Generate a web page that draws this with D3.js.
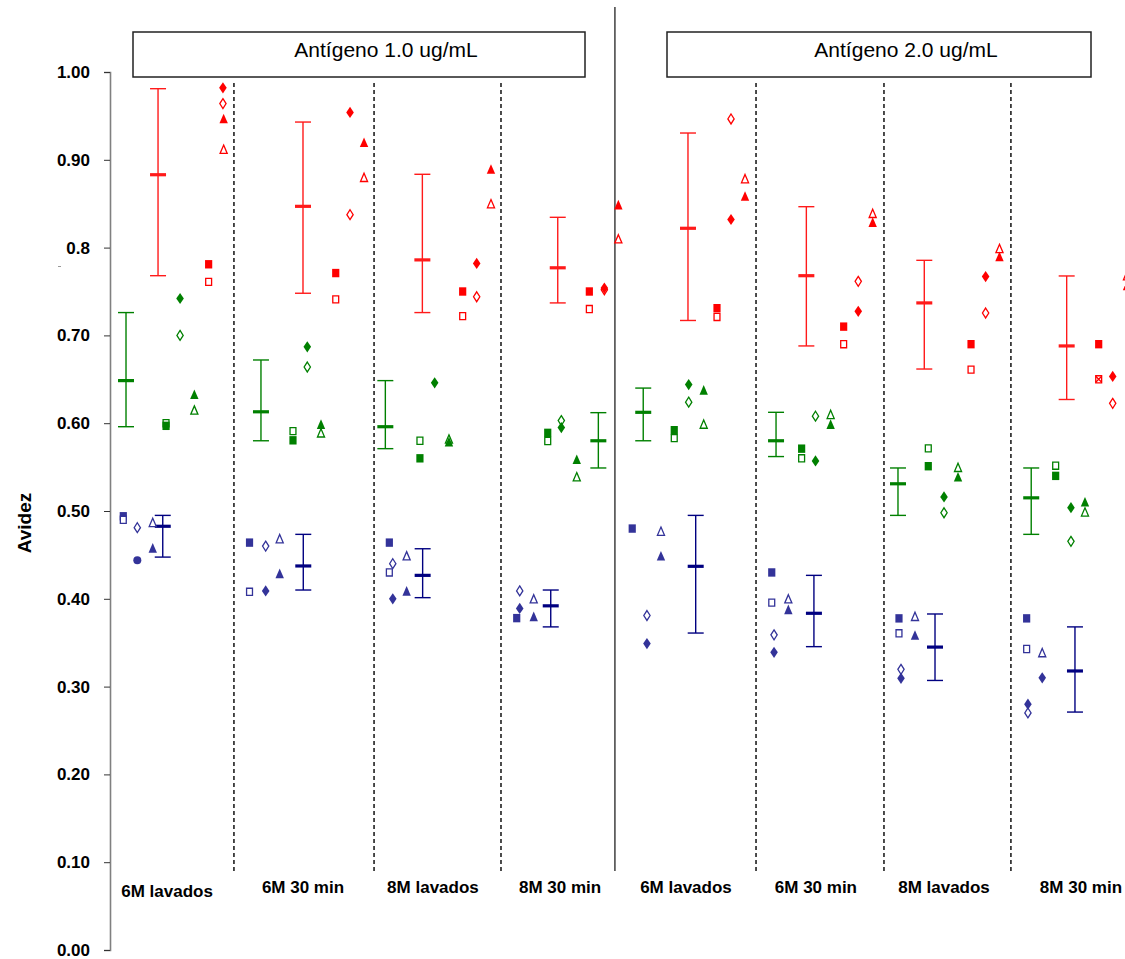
<!DOCTYPE html>
<html><head><meta charset="utf-8">
<script src="https://cdn.jsdelivr.net/npm/d3@7"></script>
<style>body{margin:0;background:#fff}svg{display:block}</style>
</head><body>
<script>
// ---------- data ----------
const panels = ["Antígeno 1.0 ug/mL", "Antígeno 2.0 ug/mL"];
const categories = ["6M lavados","6M 30 min","8M lavados","8M 30 min","6M lavados","6M 30 min","8M lavados","8M 30 min"];
const categoryX = [3.99, 13.5, 22.59, 31.48, 40.29, 49.38, 58.34, 67.92];
const dashedDividers = [8.67, 18.47, 27.35, 45.19, 54.14, 63.02];
const panelDivider = 35.32;
const yTickValues = [0,0.1,0.2,0.3,0.4,0.5,0.6,0.7,0.8,0.9,1.0];
const yTickLabels = ["0.00","0.10","0.20","0.30","0.40","0.50","0.60","0.70","0.8","0.90","1.00"];
const yTitle = "Avidez";

// error bars: [x, low, mean, high]
const redBars = [[3.36,0.768,0.883,0.981],[13.50,0.748,0.847,0.943],[21.85,0.726,0.786,0.8835],[31.32,0.737,0.777,0.8345],
  [40.43,0.717,0.822,0.9305],[48.71,0.688,0.768,0.8466],[56.96,0.6617,0.737,0.7855],[66.92,0.627,0.688,0.7677]];
const greenBars = [[1.12,0.596,0.6485,0.726],[10.56,0.580,0.613,0.672],[19.26,0.571,0.596,0.6485],[34.16,0.549,0.580,0.612],
  [37.30,0.580,0.6124,0.640],[46.59,0.562,0.580,0.6124],[55.12,0.495,0.531,0.549],[64.44,0.4734,0.515,0.549]];
const blueBars = [[3.69,0.4475,0.4826,0.495],[13.52,0.410,0.4374,0.4734],[21.87,0.4013,0.4267,0.457],[30.83,0.368,0.392,0.410],
  [40.97,0.361,0.437,0.495],[49.24,0.3455,0.3835,0.4267],[57.71,0.307,0.345,0.3827],[67.50,0.271,0.3178,0.368]];

// points: [x, value, symbol]  s/S square filled/open, d/D diamond, t/T triangle, c circle, x cross
const redPoints = [
  [6.90,0.781,"s"],[6.90,0.761,"S"],[7.90,0.982,"d"],[7.90,0.964,"D"],[7.95,0.947,"t"],[7.95,0.912,"T"],
  [15.79,0.771,"s"],[15.79,0.741,"S"],[16.79,0.954,"d"],[16.79,0.8375,"D"],[17.77,0.920,"t"],[17.77,0.880,"T"],
  [24.67,0.750,"s"],[24.67,0.722,"S"],[25.65,0.782,"d"],[25.65,0.744,"D"],[26.65,0.8895,"t"],[26.65,0.850,"T"],
  [33.53,0.750,"s"],[33.53,0.730,"S"],[34.58,0.752,"D"],[34.58,0.754,"d"],[35.56,0.849,"t"],[35.56,0.810,"T"],
  [42.46,0.731,"s"],[42.46,0.721,"S"],[43.44,0.9465,"D"],[43.44,0.832,"d"],[44.42,0.8785,"T"],[44.42,0.8588,"t"],
  [51.32,0.710,"s"],[51.32,0.690,"S"],[52.34,0.7616,"D"],[52.34,0.7274,"d"],[53.35,0.839,"T"],[53.35,0.829,"t"],
  [60.23,0.690,"s"],[60.23,0.661,"S"],[61.25,0.767,"d"],[61.25,0.7255,"D"],[62.22,0.799,"T"],[62.22,0.790,"t"],
  [69.16,0.690,"s"],[69.16,0.650,"S"],[69.16,0.650,"x"],[70.14,0.6533,"d"],[70.14,0.6226,"D"],[71.14,0.768,"T"],[71.14,0.757,"t"]
];
const greenPoints = [
  [3.92,0.600,"S"],[3.92,0.597,"s"],[4.90,0.742,"d"],[4.90,0.700,"D"],[5.90,0.633,"t"],[5.90,0.615,"T"],
  [12.80,0.591,"S"],[12.80,0.5805,"s"],[13.80,0.687,"d"],[13.80,0.664,"D"],[14.76,0.599,"t"],[14.76,0.589,"T"],
  [21.68,0.580,"S"],[21.68,0.560,"s"],[22.71,0.646,"d"],[23.71,0.582,"T"],[23.71,0.579,"t"],
  [30.62,0.589,"s"],[30.62,0.5797,"S"],[31.57,0.603,"D"],[31.57,0.595,"d"],[32.65,0.559,"t"],[32.65,0.539,"T"],
  [39.47,0.592,"s"],[39.47,0.583,"S"],[40.48,0.644,"d"],[40.48,0.624,"D"],[41.53,0.638,"t"],[41.53,0.599,"T"],
  [48.38,0.571,"s"],[48.38,0.560,"S"],[49.35,0.608,"D"],[49.35,0.557,"d"],[50.41,0.610,"T"],[50.41,0.599,"t"],
  [57.24,0.5713,"S"],[57.24,0.551,"s"],[58.34,0.516,"d"],[58.34,0.498,"D"],[59.32,0.5497,"T"],[59.32,0.539,"t"],
  [66.15,0.5516,"S"],[66.15,0.540,"s"],[67.22,0.5038,"d"],[67.22,0.4655,"D"],[68.20,0.5106,"t"],[68.20,0.4989,"T"]
];
const bluePoints = [
  [0.93,0.494,"s"],[0.93,0.490,"S"],[1.91,0.481,"D"],[1.91,0.444,"c"],[2.99,0.487,"T"],[2.99,0.458,"t"],
  [9.76,0.464,"s"],[9.76,0.408,"S"],[10.89,0.460,"D"],[10.89,0.409,"d"],[11.87,0.4685,"T"],[11.87,0.429,"t"],
  [19.54,0.464,"s"],[19.54,0.430,"S"],[19.78,0.440,"D"],[19.78,0.400,"d"],[20.75,0.449,"T"],[20.75,0.409,"t"],
  [28.45,0.378,"s"],[28.66,0.409,"D"],[28.66,0.389,"d"],[29.64,0.400,"T"],[29.64,0.380,"t"],
  [36.53,0.480,"s"],[37.56,0.381,"D"],[37.56,0.349,"d"],[38.54,0.477,"T"],[38.54,0.449,"t"],
  [46.29,0.430,"s"],[46.29,0.3956,"S"],[46.45,0.359,"D"],[46.45,0.339,"d"],[47.45,0.400,"T"],[47.45,0.388,"t"],
  [55.19,0.3777,"s"],[55.19,0.3607,"S"],[55.33,0.3197,"D"],[55.33,0.3094,"d"],[56.31,0.380,"T"],[56.31,0.3588,"t"],
  [64.12,0.3777,"s"],[64.12,0.3428,"S"],[64.21,0.270,"D"],[64.21,0.280,"d"],[65.21,0.3387,"T"],[65.21,0.310,"d"]
];

// ---------- drawing ----------
const W = 1125, H = 959;
const svg = d3.select("body").append("svg").attr("width", W).attr("height", H)
  .style("font-family", "Arial, 'Liberation Sans', sans-serif");
svg.append("rect").attr("width", W).attr("height", H).attr("fill", "#fff");

const x = d3.scaleLinear().domain([0, 71]).range([110, 1125]);
const y = d3.scaleLinear().domain([0, 1]).range([950, 72]);

// panel boxes
const boxes = [{x0: 133, x1: 585, tx: 386}, {x0: 667, x1: 1091, tx: 906}];
boxes.forEach((b, i) => {
  svg.append("rect").attr("x", b.x0).attr("y", 32).attr("width", b.x1 - b.x0).attr("height", 45)
    .attr("fill", "#fff").attr("stroke", "#222").attr("stroke-width", 1.5);
  svg.append("text").attr("x", b.tx).attr("y", 57).attr("text-anchor", "middle")
    .attr("font-size", 21).attr("fill", "#000").text(panels[i]);
});

// dividers
svg.selectAll("line.dash").data(dashedDividers).join("line")
  .attr("x1", d => x(d)).attr("x2", d => x(d)).attr("y1", 83).attr("y2", 873)
  .attr("stroke", "#111").attr("stroke-width", 1.5).attr("stroke-dasharray", "4,3");
svg.append("line").attr("x1", x(panelDivider)).attr("x2", x(panelDivider)).attr("y1", 7).attr("y2", 871)
  .attr("stroke", "#222").attr("stroke-width", 1.3);

// y axis
const yAxis = d3.axisLeft(y).tickValues(yTickValues)
  .tickFormat((d, i) => yTickLabels[i]).tickSize(6).tickPadding(14);
const ga = svg.append("g").attr("transform", "translate(110,0)").call(yAxis);
ga.select(".domain").attr("stroke", "#808080").attr("stroke-width", 1.6);
ga.selectAll(".tick line").attr("stroke", "#333");
ga.selectAll(".tick text").attr("font-size", 17).attr("font-weight", "bold").attr("fill", "#000")
  .attr("font-family", "Arial, 'Liberation Sans', sans-serif");
// stray mark below 0.8
svg.append("line").attr("x1", 58).attr("x2", 61).attr("y1", 266.5).attr("y2", 266.5).attr("stroke", "#999").attr("stroke-width", 1);

svg.append("text").attr("transform", "translate(31,523) rotate(-90)").attr("text-anchor", "middle")
  .attr("font-size", 19).attr("font-weight", "bold").text(yTitle);

// category labels
svg.selectAll("text.cat").data(categories).join("text")
  .attr("x", (d, i) => x(categoryX[i])).attr("y", (d, i) => i === 0 ? 897 : 893)
  .attr("text-anchor", "middle").attr("font-size", 17).attr("font-weight", "bold").text(d => d);

// error bars
function drawBars(data, color) {
  const g = svg.append("g").attr("stroke", color);
  data.forEach(([bx, lo, m, hi]) => {
    const cx = x(bx);
    g.append("line").attr("x1", cx).attr("x2", cx).attr("y1", y(hi)).attr("y2", y(lo)).attr("stroke-width", 1.4);
    g.append("line").attr("x1", cx - 8).attr("x2", cx + 8).attr("y1", y(hi)).attr("y2", y(hi)).attr("stroke-width", 1.4);
    g.append("line").attr("x1", cx - 8).attr("x2", cx + 8).attr("y1", y(lo)).attr("y2", y(lo)).attr("stroke-width", 1.4);
    g.append("line").attr("x1", cx - 8).attr("x2", cx + 8).attr("y1", y(m)).attr("y2", y(m)).attr("stroke-width", 3.2);
  });
}

function markerPath(sym, open) {
  const k = open ? 0.65 : 0;
  switch (sym.toLowerCase()) {
    case "s": { const w = 3.6 - k, h = 4.2 - k; return `M${-w},${-h}H${w}V${h}H${-w}Z`; }
    case "d": { const w = 3.8 - k, h = 5.6 - k; return `M0,${-h}L${w},0L0,${h}L${-w},0Z`; }
    case "t": { const w = 4.2 - k, h = 4.8 - k; return `M0,${-h}L${w},${h}L${-w},${h}Z`; }
    case "c": { const r = 4; return `M${r},0A${r},${r} 0 1,1 ${-r},0A${r},${r} 0 1,1 ${r},0Z`; }
    case "x": { const r = 3; return `M${-r},${-r}L${r},${r}M${r},${-r}L${-r},${r}`; }
  }
}

function drawPoints(data, color) {
  const g = svg.append("g");
  g.selectAll("path").data(data).join("path")
    .attr("transform", d => `translate(${x(d[0])},${y(d[1])})`)
    .attr("d", d => {
      const open = d[2] !== "c" && d[2] !== "x" && d[2] === d[2].toUpperCase();
      return markerPath(d[2], open);
    })
    .attr("fill", d => (d[2] === "x") ? "none" : (d[2] !== "c" && d[2] === d[2].toUpperCase()) ? "#fff" : color)
    .attr("stroke", d => (d[2] === "x" || (d[2] !== "c" && d[2] === d[2].toUpperCase())) ? color : "none")
    .attr("stroke-width", 1.3);
}

drawBars(greenBars, "#008000");
drawBars(blueBars, "#000080");
drawBars(redBars, "#ff1a1a");
drawPoints(greenPoints, "#008000");
drawPoints(bluePoints, "#333399");
drawPoints(redPoints, "#ff0000");
</script>
</body></html>
